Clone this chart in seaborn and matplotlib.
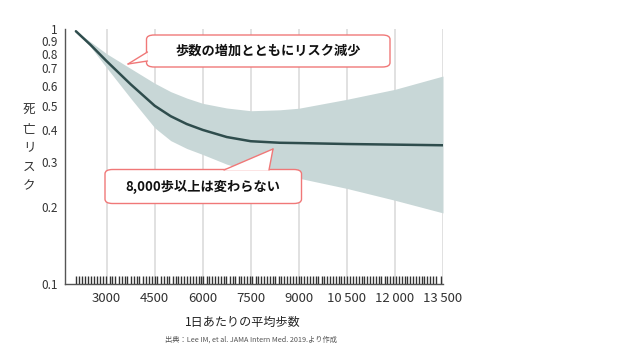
import matplotlib
matplotlib.use("Agg")
import matplotlib.pyplot as plt
import seaborn as sns
import pandas as pd
from matplotlib.patches import FancyBboxPatch, Polygon
from matplotlib.lines import Line2D

# ---- data ----
steps = [2040, 2500, 3000, 3750, 4500, 5000, 5500, 6000, 6750, 7500, 8400, 9000, 10500, 12000, 13500]
risk  = [0.98, 0.866, 0.748, 0.607, 0.500, 0.455, 0.424, 0.402, 0.377, 0.363, 0.358, 0.357, 0.354, 0.352, 0.350]
upper = [0.98, 0.890, 0.800, 0.700, 0.613, 0.568, 0.536, 0.511, 0.490, 0.478, 0.482, 0.489, 0.530, 0.580, 0.654]
lower = [0.98, 0.850, 0.705, 0.535, 0.410, 0.365, 0.340, 0.322, 0.295, 0.277, 0.265, 0.260, 0.237, 0.213, 0.190]

rug_steps = [2050, 2140, 2230, 2320, 2420, 2510, 2620, 2700, 2790, 2900, 2980, 3090, 3160,
             3250, 3380, 3470, 3560, 3640, 3760, 3840, 3950, 4020, 4150, 4230, 4330, 4420,
             4510, 4580, 4700, 4790, 4870, 4960, 5060, 5150, 5240, 5330, 5400, 5520, 5600,
             5690, 5780, 5880, 5960, 6010, 6120, 6200, 6300, 6390, 6470, 6560, 6660, 6740,
             6850, 6930, 7010, 7120, 7200, 7290, 7380, 7470, 7540, 7650, 7730, 7820, 7910,
             8000, 8100, 8180, 8270, 8370, 8450, 8540, 8640, 8720, 8810, 8900, 8990, 9080,
             9160, 9260, 9340, 9440, 9520, 9600, 9710, 9790, 9880, 9970, 10060, 10150, 10240,
             10330, 10420, 10500, 10600, 10690, 10770, 10870, 10960, 11040, 11130, 11230,
             11310, 11400, 11490, 11580, 11680, 11760, 11840, 11940, 12040, 12120, 12210,
             12300, 12380, 12470, 12570, 12660, 12740, 12830, 12920, 13010, 13100, 13190,
             13280, 13450]

x_ticks = [3000, 4500, 6000, 7500, 9000, 10500, 12000, 13500]
x_labels = ["3000", "4500", "6000", "7500", "9000", "10\u2009500", "12\u2009000", "13\u2009500"]
y_ticks = [0.1, 0.2, 0.3, 0.4, 0.5, 0.6, 0.7, 0.8, 0.9, 1]
y_labels = ["0.1", "0.2", "0.3", "0.4", "0.5", "0.6", "0.7", "0.8", "0.9", "1"]

title_y = "死\n亡\nリ\nス\nク"
title_x = "1日あたりの平均歩数"
note1 = "歩数の増加とともにリスク減少"
note2 = "8,000歩以上は変わらない"
source = "出典：Lee IM, et al. JAMA Intern Med. 2019.より作成"

# ---- style ----
sns.set_style("white")
plt.rcParams["font.family"] = ["Noto Sans CJK JP", "DejaVu Sans"]

W, H = 640, 360
fig = plt.figure(figsize=(6.4, 3.6), dpi=100)
ax = fig.add_axes([65 / W, 1 - 284 / H, (443 - 65) / W, (284 - 29) / H])

df = pd.DataFrame({"steps": steps, "risk": risk, "upper": upper, "lower": lower})
ax.fill_between(df["steps"], df["lower"], df["upper"], color="#c8d7d7", lw=0, zorder=2)
sns.lineplot(data=df, x="steps", y="risk", ax=ax, color="#2f4d4d", lw=1.8, zorder=3)
sns.rugplot(x=rug_steps, ax=ax, height=0.032, color="#333333", lw=0.8, zorder=4)

ax.set_yscale("log")
ax.set_ylim(0.1, 1)
ax.set_xlim(1700, 13500)
ax.set_yticks(y_ticks)
ax.set_yticklabels(y_labels)
ax.minorticks_off()
ax.set_xticks(x_ticks)
ax.set_xticklabels(x_labels)
for xt in x_ticks:
    ax.axvline(xt, color="#dedede", lw=1.3, zorder=1)

ax.tick_params(axis="both", which="major", labelsize=8.5, colors="#333333",
               length=3, width=0.8, direction="out", pad=2)
ax.tick_params(axis="x", labelsize=9.5, pad=3)
for s in ["top", "right"]:
    ax.spines[s].set_visible(False)
for s in ["left", "bottom"]:
    ax.spines[s].set_color("#555555")
    ax.spines[s].set_linewidth(1.0)
ax.set_xlabel("")
ax.set_ylabel("")

def fx(px):
    return px / W

def fy(py):
    return 1 - py / H

# y label stacked
fig.text(fx(29), fy(148), title_y, ha="center", va="center", fontsize=9,
         color="#333333", linespacing=1.6)
fig.text(fx(243), fy(322), title_x, ha="center", va="center", fontsize=8.7, color="#222222")
fig.text(fx(251), fy(340), source, ha="center", va="center", fontsize=5.2, color="#555555")

edge = "#f07878"

def bubble(x0, y0, x1, y1, pointer, text):
    box = FancyBboxPatch((fx(x0), fy(y1)), fx(x1) - fx(x0), fy(y0) - fy(y1),
                         boxstyle="round,pad=0,rounding_size=0.012",
                         transform=fig.transFigure, facecolor="white",
                         edgecolor=edge, lw=1.0, zorder=10)
    fig.add_artist(box)
    (ax_, ay_), (tx, ty), (bx, by) = pointer
    poly = Polygon([(fx(ax_), fy(ay_)), (fx(tx), fy(ty)), (fx(bx), fy(by))],
                   closed=True, transform=fig.transFigure, facecolor="white",
                   edgecolor="none", zorder=11)
    fig.add_artist(poly)
    for (px, py) in [(ax_, ay_), (bx, by)]:
        fig.add_artist(Line2D([fx(px), fx(tx)], [fy(py), fy(ty)], color=edge, lw=1.0,
                              transform=fig.transFigure, zorder=12))
    fig.text(fx((x0 + x1) / 2), fy((y0 + y1) / 2), text, ha="center", va="center",
             fontsize=9.5, fontweight="bold", color="#111111", zorder=13)

bubble(146.5, 35, 390, 67, [(147.5, 52), (128, 64), (147.5, 61)], note1)
bubble(105, 169.5, 301.5, 203.5, [(224, 170), (273, 149), (269, 170)], note2)

fig.savefig("out.png", dpi=100)
